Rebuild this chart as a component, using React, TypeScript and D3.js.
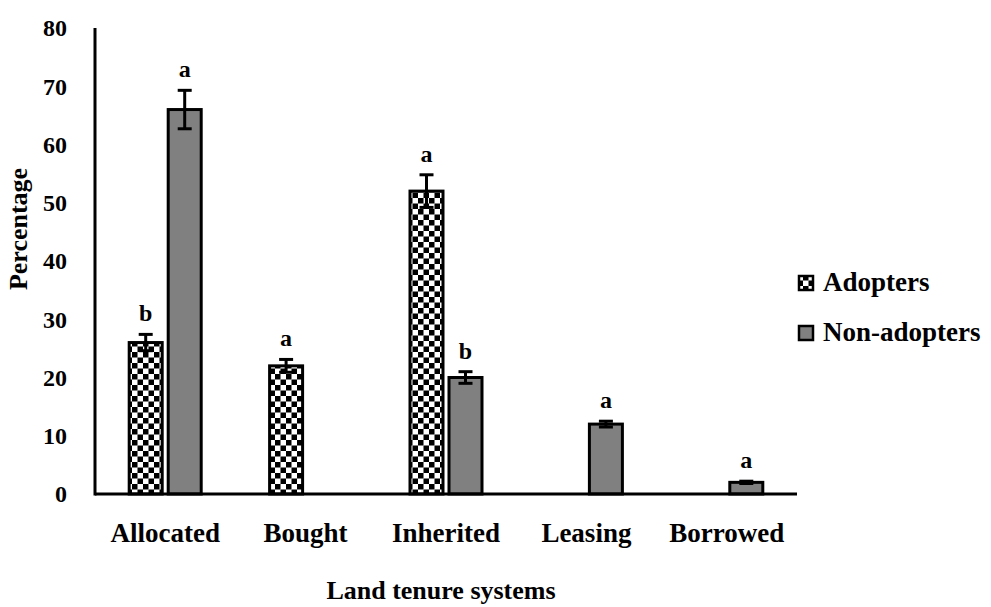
import React from "react";
import * as d3 from "d3";

const categories = ["Allocated", "Bought", "Inherited", "Leasing", "Borrowed"];
const adopters = [26, 22, 52, 0, 0];
const adoptersErr = [1.4, 1.1, 2.8, 0, 0];
const adoptersLetters = ["b", "a", "a", "", ""];
const nonAdopters = [66, 0, 20, 12, 2];
const nonAdoptersErr = [3.3, 0, 1, 0.5, 0.2];
const nonAdoptersLetters = ["a", "", "b", "a", "a"];
const yTicks = [0, 10, 20, 30, 40, 50, 60, 70, 80];
const seriesNames = ["Adopters", "Non-adopters"];

const W = 991;
const H = 607;
const FONT = "'Liberation Serif', 'Times New Roman', serif";

export default function App() {
  const left = 95;
  const right = 797;
  const top = 28;
  const bottom = 494;
  const x = d3.scaleBand<string>().domain(categories).range([left, right]).padding(0);
  const y = d3.scaleLinear().domain([0, 80]).range([bottom, top]);
  const barW = 33;
  const gap = 3;

  const series = [
    { vals: adopters, err: adoptersErr, letters: adoptersLetters, fill: "url(#checker)", off: -gap - barW },
    { vals: nonAdopters, err: nonAdoptersErr, letters: nonAdoptersLetters, fill: "#808080", off: gap },
  ];

  return (
    <svg width={W} height={H} style={{ position: "absolute", left: 0, top: 0 }} fontFamily={FONT}>
      <defs>
        <pattern id="checker" width={11} height={11} patternUnits="userSpaceOnUse">
          <rect width={11} height={11} fill="#fff" />
          <rect width={5.5} height={5.5} fill="#000" />
          <rect x={5.5} y={5.5} width={5.5} height={5.5} fill="#000" />
        </pattern>
      </defs>
      <rect width={W} height={H} fill="#fff" />
      {yTicks.map((t) => (
        <text key={t} x={67} y={y(t)} dy="0.35em" textAnchor="end" fontSize={24} fontWeight="bold">
          {t}
        </text>
      ))}
      {series.map((s, si) =>
        categories.map((c, i) => {
          const v = s.vals[i];
          if (v <= 0) return null;
          const cx = (x(c) as number) + x.bandwidth() / 2;
          const bx = cx + s.off;
          const mid = bx + barW / 2;
          const eTop = y(v + s.err[i]);
          const eBot = y(v - s.err[i]);
          return (
            <g key={si + "-" + i}>
              <rect x={bx} y={y(v)} width={barW} height={bottom - y(v)} fill={s.fill} stroke="#000" strokeWidth={3} />
              <line x1={mid} x2={mid} y1={eTop} y2={eBot} stroke="#000" strokeWidth={3} />
              <line x1={mid - 7} x2={mid + 7} y1={eTop} y2={eTop} stroke="#000" strokeWidth={3} />
              <line x1={mid - 7} x2={mid + 7} y1={eBot} y2={eBot} stroke="#000" strokeWidth={3} />
              <text x={mid} y={eTop - 13} textAnchor="middle" fontSize={24} fontWeight="bold">
                {s.letters[i]}
              </text>
            </g>
          );
        })
      )}
      <line x1={left} x2={left} y1={top} y2={bottom + 1.5} stroke="#000" strokeWidth={3} />
      <line x1={left} x2={right} y1={bottom} y2={bottom} stroke="#000" strokeWidth={3} />
      {categories.map((c) => (
        <text key={c} x={(x(c) as number) + x.bandwidth() / 2} y={542} textAnchor="middle" fontSize={27} fontWeight="bold">
          {c}
        </text>
      ))}
      <text x={(left + right) / 2 - 5} y={599} textAnchor="middle" fontSize={26} fontWeight="bold">
        Land tenure systems
      </text>
      <text transform={`translate(27,229) rotate(-90)`} textAnchor="middle" fontSize={26} fontWeight="bold">
        Percentage
      </text>
      {seriesNames.map((n, i) => (
        <g key={n}>
          <rect x={799} y={276 + i * 50} width={14} height={14} fill={i === 0 ? "url(#checker)" : "#808080"} stroke="#000" strokeWidth={2.5} />
          <text x={823} y={291 + i * 50} fontSize={27} fontWeight="bold">
            {n}
          </text>
        </g>
      ))}
    </svg>
  );
}
